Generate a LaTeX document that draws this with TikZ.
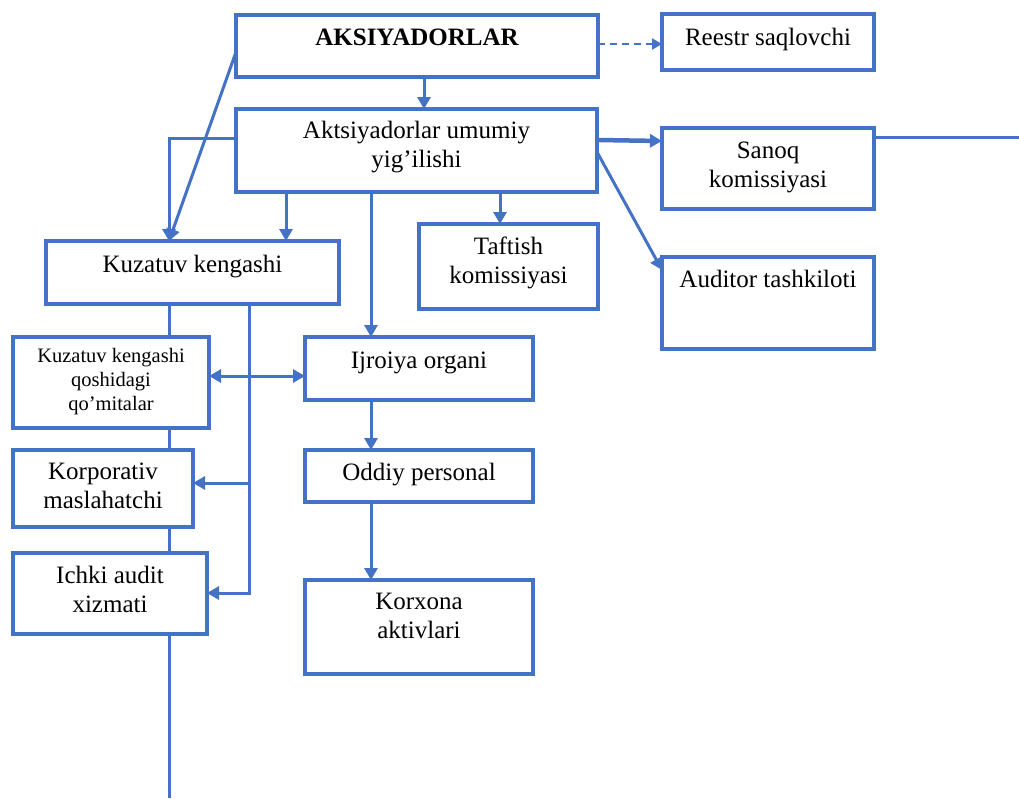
\documentclass[tikz,border=0pt]{standalone}
\usepackage{fontspec}
\setmainfont{Liberation Serif}
\usetikzlibrary{arrows.meta}
\definecolor{bl}{RGB}{68,114,196}
\begin{document}
\begin{tikzpicture}[x=1pt,y=-1pt,
  box/.style={draw=bl,line width=3.5pt,fill=white,anchor=north west,inner sep=0pt,outer sep=0pt},
  txt/.style={font=\fontsize{25}{29}\selectfont,align=center,anchor=base,inner sep=0pt},
  stxt/.style={font=\fontsize{20.5}{24}\selectfont,align=center,anchor=base,inner sep=0pt},
  conn/.style={draw=bl,line width=3pt},
  arr/.style={conn,-{Triangle[length=12pt,width=13pt]}},
  darr/.style={conn,{Triangle[length=12pt,width=13pt]}-{Triangle[length=12pt,width=13pt]}},
  dsh/.style={draw=bl,line width=2pt,dash pattern=on 7pt off 5pt,-{Triangle[length=10pt,width=11pt]}}
]
\useasboundingbox (0,0) rectangle (1019,798);

% boxes
\node[box,minimum width=362pt,minimum height=62pt] (aks) at (236,15) {};
\node[box,minimum width=212pt,minimum height=56pt] (ree) at (662,14) {};
\node[box,minimum width=361pt,minimum height=83pt] (umu) at (236,109) {};
\node[box,minimum width=212pt,minimum height=81pt] (san) at (662,128) {};
\node[box,minimum width=212pt,minimum height=92pt] (aud) at (662,257) {};
\node[box,minimum width=179pt,minimum height=85pt] (taf) at (419,224) {};
\node[box,minimum width=293pt,minimum height=63pt] (kuz) at (46,241) {};
\node[box,minimum width=196pt,minimum height=91pt] (qom) at (13,337) {};
\node[box,minimum width=228pt,minimum height=63pt] (ijr) at (305,337) {};
\node[box,minimum width=180pt,minimum height=77pt] (kor) at (13,450) {};
\node[box,minimum width=194pt,minimum height=81pt] (ich) at (13,553) {};
\node[box,minimum width=228pt,minimum height=52pt] (odd) at (305,450) {};
\node[box,minimum width=228pt,minimum height=94pt] (korx) at (305,580) {};

% texts (anchor base = baseline of last line)
\node[txt,font=\fontsize{25}{29}\selectfont\bfseries] (taks) at (417,45) {AKSIYADORLAR};
\node[txt] (tree) at (768,45) {Reestr saqlovchi};
\node[txt] (tumu) at (416.5,167) {Aktsiyadorlar umumiy\\yig’ilishi};
\node[txt] (tsan) at (768,187) {Sanoq\\komissiyasi};
\node[txt] (taud) at (768,287) {Auditor tashkiloti};
\node[txt] (ttaf) at (508.5,283) {Taftish\\komissiyasi};
\node[txt] (tkuz) at (192.5,272) {Kuzatuv kengashi};
\node[stxt] (tqom) at (111,410) {Kuzatuv kengashi\\qoshidagi\\qo’mitalar};
\node[txt] (tijr) at (419,368) {Ijroiya organi};
\node[txt] (tkor) at (103,508) {Korporativ\\maslahatchi};
\node[txt] (tich) at (110,612) {Ichki audit\\xizmati};
\node[txt] (todd) at (419,480) {Oddiy personal};
\node[txt] (tkorx) at (419,638) {Korxona\\aktivlari};

% helper coordinates
\coordinate (c169) at (169,0);
\coordinate (c249) at (249,0);
\coordinate (c286) at (286,0);
\coordinate (c371) at (371,0);
\coordinate (c424) at (424,0);
\coordinate (c500) at (500,0);
\coordinate (r44) at (0,44);
\coordinate (r52) at (0,52);
\coordinate (r137) at (0,137);
\coordinate (r138) at (0,138);
\coordinate (r140) at (0,140);
\coordinate (r141) at (0,141);
\coordinate (r152) at (0,152);
\coordinate (r270) at (0,270);
\coordinate (r376) at (0,376);
\coordinate (r483) at (0,483);
\coordinate (r593) at (0,593);
\coordinate (edgeR) at (1019,137);
\coordinate (bot) at (169,798);

% connectors
\draw[arr] (aks.south -| c424) -- (umu.north -| c424);
\draw[dsh] (aks.east |- r44) -- (ree.west |- r44);
\draw[arr,line width=4.5pt] (umu.east |- r140) -- (san.west |- r141);
\draw[arr] (umu.east |- r152) -- (aud.west |- r270);
\draw[conn] (san.east |- r137) -- (edgeR);
\draw[arr] (umu.south -| c500) -- (taf.north -| c500);
\draw[arr] (umu.south -| c286) -- (kuz.north -| c286);
\draw[arr] (umu.west |- r138) -| (kuz.north -| c169);
\draw[arr] (aks.west |- r52) -- (kuz.north -| c169);
\draw[arr] (umu.south -| c371) -- (ijr.north -| c371);
\draw[conn] (kuz.south -| c169) -- (qom.north -| c169);
\draw[conn] (qom.south -| c169) -- (kor.north -| c169);
\draw[conn] (kor.south -| c169) -- (ich.north -| c169);
\draw[conn] (ich.south -| c169) -- (bot);
\draw[arr] (kuz.south -| c249) |- (ich.east |- r593);
\draw[arr] (c249 |- r483) -- (kor.east |- r483);
\draw[darr] (qom.east |- r376) -- (ijr.west |- r376);
\draw[arr] (ijr.south -| c371) -- (odd.north -| c371);
\draw[arr] (odd.south -| c371) -- (korx.north -| c371);
\end{tikzpicture}
\end{document}
